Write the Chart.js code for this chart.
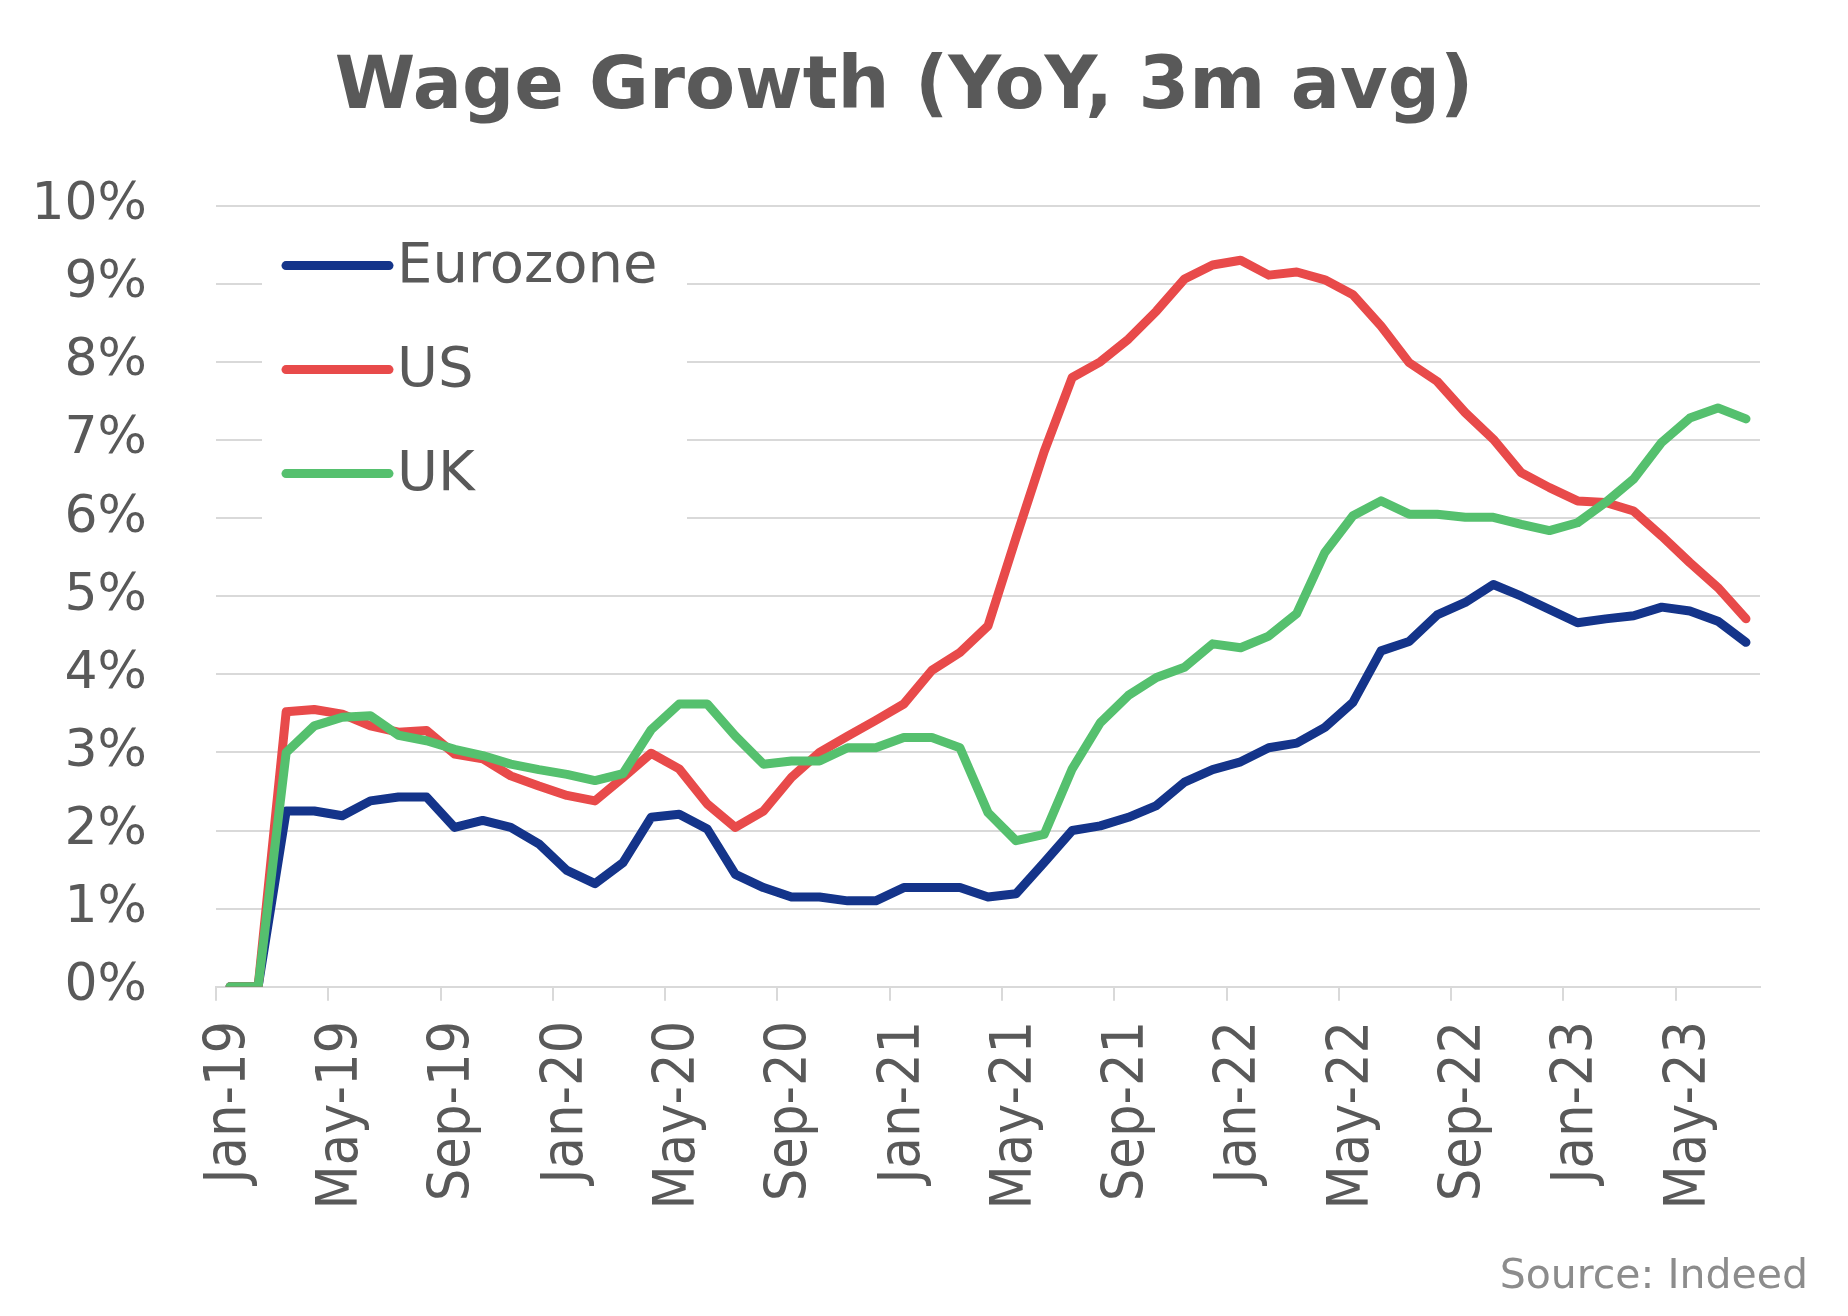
<!DOCTYPE html>
<html>
<head>
<meta charset="utf-8">
<title>Wage Growth (YoY, 3m avg)</title>
<script src="https://cdn.jsdelivr.net/npm/chart.js@4.4.1/dist/chart.umd.min.js"></script>
<style>
  html, body { margin: 0; padding: 0; background: #fff; }
</style>
</head>
<body>
<canvas id="wageChart" width="1848" height="1316"></canvas>
<script>
// monthly, Jan-19 .. Jul-23
const months = [
  'Jan-19','Feb-19','Mar-19','Apr-19','May-19','Jun-19','Jul-19','Aug-19','Sep-19','Oct-19','Nov-19','Dec-19',
  'Jan-20','Feb-20','Mar-20','Apr-20','May-20','Jun-20','Jul-20','Aug-20','Sep-20','Oct-20','Nov-20','Dec-20',
  'Jan-21','Feb-21','Mar-21','Apr-21','May-21','Jun-21','Jul-21','Aug-21','Sep-21','Oct-21','Nov-21','Dec-21',
  'Jan-22','Feb-22','Mar-22','Apr-22','May-22','Jun-22','Jul-22','Aug-22','Sep-22','Oct-22','Nov-22','Dec-22',
  'Jan-23','Feb-23','Mar-23','Apr-23','May-23','Jun-23','Jul-23'
];

const eurozone = [
  0, 0, 2.25, 2.25, 2.19, 2.38, 2.43, 2.43, 2.04, 2.13, 2.04, 1.83,
  1.49, 1.32, 1.59, 2.17, 2.21, 2.02, 1.44, 1.27, 1.15, 1.15, 1.10, 1.10,
  1.27, 1.27, 1.27, 1.15, 1.19, 1.59, 2.00, 2.06, 2.17, 2.32, 2.62, 2.78,
  2.88, 3.06, 3.12, 3.32, 3.64, 4.30, 4.42, 4.76, 4.92, 5.15, 5.00, 4.83,
  4.66, 4.71, 4.75, 4.86, 4.81, 4.68, 4.41
];

const us = [
  0, 0, 3.52, 3.55, 3.49, 3.34, 3.26, 3.28, 2.98, 2.92, 2.70, 2.57,
  2.45, 2.38, 2.68, 2.99, 2.79, 2.34, 2.04, 2.25, 2.68, 3.00, 3.21, 3.41,
  3.62, 4.05, 4.28, 4.62, 5.75, 6.85, 7.80, 8.00, 8.29, 8.65, 9.06, 9.24,
  9.30, 9.11, 9.15, 9.05, 8.86, 8.46, 7.99, 7.75, 7.35, 7.01, 6.58, 6.39,
  6.22, 6.20, 6.09, 5.77, 5.43, 5.11, 4.71
];

const uk = [
  0, 0, 3.00, 3.34, 3.45, 3.47, 3.22, 3.15, 3.04, 2.96, 2.85, 2.78,
  2.72, 2.64, 2.73, 3.29, 3.62, 3.62, 3.21, 2.85, 2.89, 2.89, 3.06, 3.06,
  3.19, 3.19, 3.06, 2.23, 1.87, 1.95, 2.79, 3.38, 3.73, 3.96, 4.09, 4.39,
  4.34, 4.49, 4.78, 5.56, 6.03, 6.22, 6.05, 6.05, 6.01, 6.01, 5.92, 5.84,
  5.94, 6.20, 6.50, 6.97, 7.28, 7.41, 7.27
];

const yTicks = [0, 1, 2, 3, 4, 5, 6, 7, 8, 9, 10];

const gridGray = '#d9d9d9';
const textGray = '#595959';
const lineW = 9;

// legend drawn inside the plot, on a white box that hides the grid lines
const insideLegend = {
  id: 'insideLegend',
  beforeDatasetsDraw(chart) {
    const { ctx, chartArea } = chart;
    const x0 = chartArea.left + 46;
    const y0 = chartArea.top + 30;
    ctx.save();
    ctx.fillStyle = '#ffffff';
    ctx.fillRect(x0, y0, 425, 294);
    chart.data.datasets.forEach((ds, row) => {
      const y = chartArea.top + 60 + row * 104;
      ctx.strokeStyle = ds.borderColor;
      ctx.lineWidth = lineW;
      ctx.lineCap = 'round';
      ctx.beginPath();
      ctx.moveTo(x0 + 24, y);
      ctx.lineTo(x0 + 127, y);
      ctx.stroke();
      ctx.fillStyle = textGray;
      ctx.font = '56px "DejaVu Sans"';
      ctx.textBaseline = 'middle';
      ctx.textAlign = 'left';
      ctx.fillText(ds.label, x0 + 135, y + 2);
    });
    ctx.restore();
  }
};

const lineStyle = {
  borderWidth: lineW,
  tension: 0,
  borderCapStyle: 'round',
  borderJoinStyle: 'round',
  fill: false,
  pointRadius: 0,
  pointHoverRadius: 0
};

new Chart(document.getElementById('wageChart'), {
  type: 'line',
  data: {
    labels: months,
    datasets: [
      { label: 'Eurozone', data: eurozone, borderColor: '#14348a', order: 3, ...lineStyle },
      { label: 'US', data: us, borderColor: '#e84a4a', order: 2, ...lineStyle },
      { label: 'UK', data: uk, borderColor: '#55c06e', order: 1, ...lineStyle }
    ]
  },
  options: {
    responsive: false,
    animation: false,
    layout: { padding: { left: 0, right: 40, top: 0, bottom: 0 } },
    plugins: {
      legend: { display: false },
      tooltip: { enabled: false },
      title: {
        display: true,
        text: 'Wage Growth (YoY, 3m avg)',
        color: textGray,
        font: { family: '"DejaVu Sans"', size: 73, weight: 'bold', lineHeight: 1.2 },
        padding: { top: 45, bottom: 73 }
      },
      subtitle: {
        display: true,
        position: 'bottom',
        align: 'end',
        text: 'Source: Indeed',
        color: '#8c8c8c',
        font: { family: '"DejaVu Sans"', size: 41, lineHeight: 1.2 },
        padding: { top: 36, bottom: 14 }
      }
    },
    scales: {
      x: {
        type: 'category',
        offset: true,
        grid: {
          offset: true,
          drawOnChartArea: false,
          drawTicks: true,
          tickLength: 14,
          lineWidth: 2,
          color: c => (c.index % 4 === 0 ? gridGray : 'rgba(0,0,0,0)')
        },
        border: { display: true, color: gridGray, width: 2 },
        ticks: {
          autoSkip: false,
          minRotation: 90,
          maxRotation: 90,
          padding: 20,
          color: textGray,
          font: { family: '"DejaVu Sans Condensed", "DejaVu Sans"', size: 57 },
          callback: function (v, i) { return i % 4 === 0 ? this.getLabelForValue(v) : ''; }
        },
        afterFit: s => { s.height = 230; }
      },
      y: {
        min: 0,
        max: 10,
        afterBuildTicks: s => { s.ticks = yTicks.map(v => ({ value: v })); },
        grid: { color: gridGray, lineWidth: 2, drawTicks: false },
        border: { display: false },
        ticks: {
          padding: 69,
          color: textGray,
          font: { family: '"DejaVu Sans"', size: 52 },
          callback: v => v + '%'
        },
        afterFit: s => { s.width = 216; }
      },
      yRight: {
        position: 'right',
        display: true,
        grid: { display: false, drawTicks: false },
        border: { display: false },
        ticks: { display: false },
        afterFit: s => { s.width = 48; }
      }
    }
  },
  plugins: [insideLegend]
});
</script>
</body>
</html>
